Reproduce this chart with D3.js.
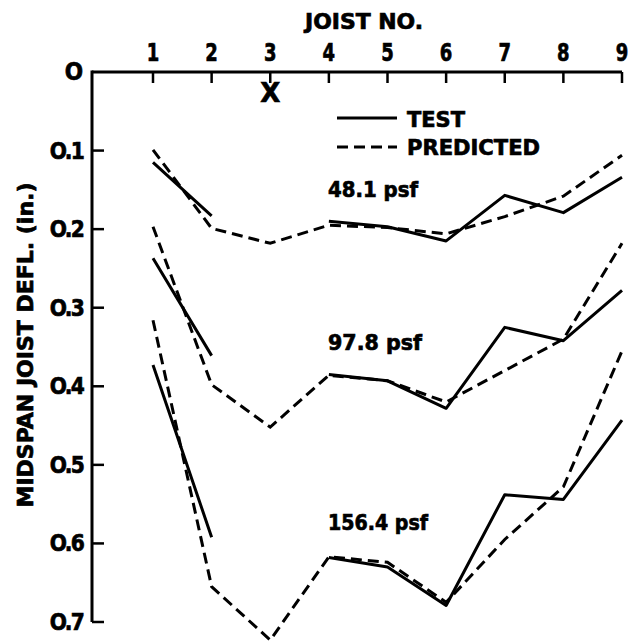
<!DOCTYPE html>
<html lang="en">
<head>
<meta charset="utf-8">
<title>Midspan joist deflection</title>
<script src="https://d3js.org/d3.v7.min.js"></script>
<style>
  body { margin: 0; background: #fff; }
  text { font-family: 'DejaVu Sans', sans-serif; font-weight: bold; fill: #000;
         stroke: #000; stroke-width: 0.7px; }
  .test { fill: none; stroke: #000; stroke-width: 3px; stroke-linejoin: round; }
  .pred { fill: none; stroke: #000; stroke-width: 3px; stroke-dasharray: 11 6; }
</style>
</head>
<body>
<svg id="chart" width="635" height="644"></svg>
<script>
// joist numbers and tick labels
var joists = [1, 2, 3, 4, 5, 6, 7, 8, 9];
var yTicks = [0, 0.1, 0.2, 0.3, 0.4, 0.5, 0.6, 0.7];
var loads = ["48.1 psf", "97.8 psf", "156.4 psf"];

// test values (joist 3 failed, null = no reading)
var test481 = [0.115, 0.183, null, 0.190, 0.197, 0.215, 0.157, 0.179, 0.134];
var test978 = [0.237, 0.361, null, 0.385, 0.393, 0.428, 0.325, 0.342, 0.278];
var test1564 = [0.373, 0.592, null, 0.618, 0.630, 0.679, 0.538, 0.544, 0.443];

// predicted values
var pred481 = [0.099, 0.199, 0.218, 0.195, 0.198, 0.206, 0.184, 0.158, 0.106];
var pred978 = [0.197, 0.398, 0.452, 0.386, 0.393, 0.420, 0.380, 0.340, 0.218];
var pred1564 = [0.316, 0.655, 0.723, 0.617, 0.624, 0.675, 0.595, 0.528, 0.355];

var svg = d3.select("#chart");

var x = d3.scaleLinear().domain([1, 9]).range([153, 622]);
var y = d3.scaleLinear().domain([0, 0.7]).range([72, 622]);
var x0 = 92;

// narrow bold lettering
function label(g, tx, ty, size, txt, anchor, sx) {
  return g.append("text")
    .attr("transform", "translate(" + tx + "," + ty + ") scale(" + (sx || 0.8) + ",1)")
    .attr("text-anchor", anchor || "start")
    .attr("font-size", size)
    .text(txt);
}

// top axis
svg.append("line").attr("x1", x0).attr("x2", x(9)).attr("y1", y(0)).attr("y2", y(0))
  .attr("stroke", "#000").attr("stroke-width", 3);
svg.selectAll(".xt").data(joists).enter().append("line")
  .attr("x1", d => x(d)).attr("x2", d => x(d))
  .attr("y1", y(0)).attr("y2", y(0) + 11)
  .attr("stroke", "#000").attr("stroke-width", 2.5);
joists.forEach(function(j) { label(svg, x(j), 61, 24, j, "middle", 0.75); });
svg.append("text").attr("x", 305).attr("y", 29).attr("font-size", 21)
  .attr("textLength", 118).attr("lengthAdjust", "spacingAndGlyphs").text("JOIST NO.");

// failed joist mark
svg.append("text").attr("x", x(3)).attr("y", 102).attr("text-anchor", "middle")
  .attr("font-family", "DejaVu Serif").attr("font-size", 26).attr("stroke-width", 1.2)
  .text("X");

// left axis
svg.append("line").attr("x1", x0).attr("x2", x0).attr("y1", y(0) - 1.5).attr("y2", y(0.7))
  .attr("stroke", "#000").attr("stroke-width", 3);
svg.selectAll(".yt").data(yTicks.slice(1)).enter().append("line")
  .attr("x1", x0).attr("x2", x0 + 12)
  .attr("y1", d => y(d)).attr("y2", d => y(d))
  .attr("stroke", "#000").attr("stroke-width", 2.5);
yTicks.forEach(function(t) {
  if (t === 0) label(svg, 83, y(t) + 8, 24, "O", "end", 0.9);
  else label(svg, 83, y(t) + 8, 23, d3.format(".1f")(t).replace("0.", "O."), "end", 0.88)
    .attr("letter-spacing", -2);
});
svg.append("text")
  .attr("transform", "translate(33,345) rotate(-90)")
  .attr("text-anchor", "middle").attr("font-size", 21)
  .attr("textLength", 325).attr("lengthAdjust", "spacingAndGlyphs")
  .text("MIDSPAN JOIST DEFL. (in.)");

// series
var line = d3.line()
  .defined(d => d != null)
  .x((d, i) => x(joists[i]))
  .y(d => y(d));

[test481, test978, test1564].forEach(function(s) {
  svg.append("path").datum(s).attr("class", "test").attr("d", line);
});
[pred481, pred978, pred1564].forEach(function(s) {
  svg.append("path").datum(s).attr("class", "pred").attr("d", line);
});

// load labels
var loadPos = [[328, 197, 90], [328, 350, 94], [328, 530, 100]];
svg.selectAll(".ld").data(loads).enter().append("text")
  .attr("x", (d, i) => loadPos[i][0]).attr("y", (d, i) => loadPos[i][1])
  .attr("font-size", 21)
  .attr("textLength", (d, i) => loadPos[i][2]).attr("lengthAdjust", "spacingAndGlyphs")
  .text(d => d);

// legend
svg.append("line").attr("x1", 337).attr("x2", 397).attr("y1", 118).attr("y2", 118)
  .attr("stroke", "#000").attr("stroke-width", 3);
svg.append("line").attr("x1", 337).attr("x2", 397).attr("y1", 147).attr("y2", 147)
  .attr("class", "pred");
svg.append("text").attr("x", 407).attr("y", 127).attr("font-size", 22)
  .attr("textLength", 58).attr("lengthAdjust", "spacingAndGlyphs").text("TEST");
svg.append("text").attr("x", 407).attr("y", 155).attr("font-size", 22)
  .attr("textLength", 133).attr("lengthAdjust", "spacingAndGlyphs").text("PREDICTED");
</script>
</body>
</html>
